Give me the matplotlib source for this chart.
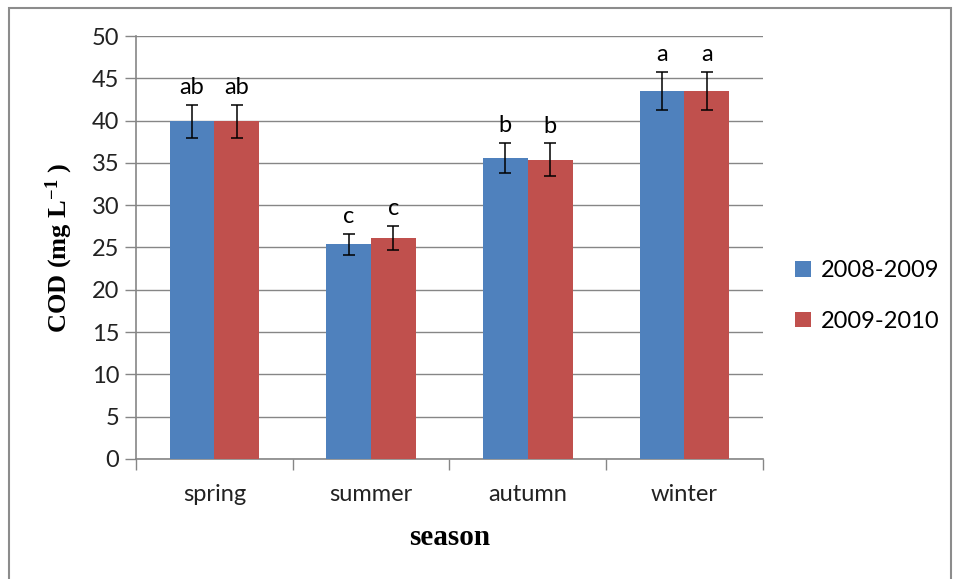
import matplotlib.pyplot as plt
import matplotlib.patches as mpatches
import numpy as np

# data
seasons = ['spring', 'summer', 'autumn', 'winter']
years = ['2008-2009', '2009-2010']
cod_0809 = [39.9, 25.4, 35.6, 43.5]
cod_0910 = [39.9, 26.1, 35.4, 43.5]
err_0809 = [2.0, 1.25, 1.8, 2.2]
err_0910 = [2.0, 1.4, 1.9, 2.2]
letters_0809 = ['ab', 'c', 'b', 'a']
letters_0910 = ['ab', 'c', 'b', 'a']

blue = '#4F81BD'
red = '#C0504D'
grey = '#868686'

plt.rcParams['mathtext.fontset'] = 'custom'
plt.rcParams['mathtext.rm'] = 'Liberation Serif:bold'
plt.rcParams['mathtext.it'] = 'Liberation Serif:bold'
plt.rcParams['mathtext.bf'] = 'Liberation Serif:bold'

fig = plt.figure(figsize=(9.57, 5.79), dpi=100)
ax = fig.add_axes([0.1421, 0.2073, 0.6549, 0.7305])

# outer frame of the chart area
fig.patches.append(mpatches.Rectangle((0.009, -0.01), 0.985, 0.996, transform=fig.transFigure,
                                      fill=False, edgecolor='#8c8c8c', linewidth=1.5))

x = np.arange(len(seasons))
w = 0.286
ekw = dict(ecolor='black', elinewidth=1.1, capsize=4.3, capthick=1.1)
ax.bar(x - w / 2, cod_0809, w, color=blue, yerr=err_0809, error_kw=ekw, label=years[0], zorder=3)
ax.bar(x + w / 2, cod_0910, w, color=red, yerr=err_0910, error_kw=ekw, label=years[1], zorder=3)

# significance letters
for i in range(len(seasons)):
    ax.annotate(letters_0809[i], (x[i] - w / 2, cod_0809[i] + err_0809[i]), xytext=(0, 5),
                textcoords='offset points', ha='center', va='bottom', fontsize=17, family='Lato')
    ax.annotate(letters_0910[i], (x[i] + w / 2, cod_0910[i] + err_0910[i]), xytext=(0, 5),
                textcoords='offset points', ha='center', va='bottom', fontsize=17, family='Lato')

ax.set_xlim(-0.5, len(seasons) - 0.5)
ax.set_ylim(0, 50)
ax.set_yticks(np.arange(0, 51, 5))
ax.yaxis.grid(True, color=grey, linewidth=1.0, zorder=0)
ax.set_axisbelow(True)

# tick marks on category boundaries, labels at centers
ax.set_xticks(np.arange(-0.5, len(seasons), 1.0))
ax.set_xticklabels([])
ax.set_xticks(x, minor=True)
ax.set_xticklabels(seasons, minor=True)
ax.tick_params(axis='x', which='major', length=8, color=grey, width=1)
ax.tick_params(axis='x', which='minor', length=0, pad=18, labelsize=17)
ax.tick_params(axis='y', length=8, color=grey, width=1, labelsize=17, pad=4)
for lab in ax.get_xticklabels(minor=True) + ax.get_yticklabels():
    lab.set_family('Lato')
    lab.set_color('#222222')

for s in ['top', 'right']:
    ax.spines[s].set_visible(False)
for s in ['left', 'bottom']:
    ax.spines[s].set_color(grey)
    ax.spines[s].set_linewidth(1.2)

ax.set_ylabel('COD (mg L$^{-1}$ )', family='Liberation Serif', fontweight='bold', fontsize=19, labelpad=12)
ax.set_xlabel('season', family='Liberation Serif', fontweight='bold', fontsize=21, labelpad=14)

leg = ax.legend(loc='center left', bbox_to_anchor=(1.018, 0.385), frameon=False,
                prop={'family': 'Lato', 'size': 17}, handlelength=0.65, handleheight=0.65,
                handletextpad=0.45, labelspacing=1.25)

fig.savefig('out.png', dpi=100)
